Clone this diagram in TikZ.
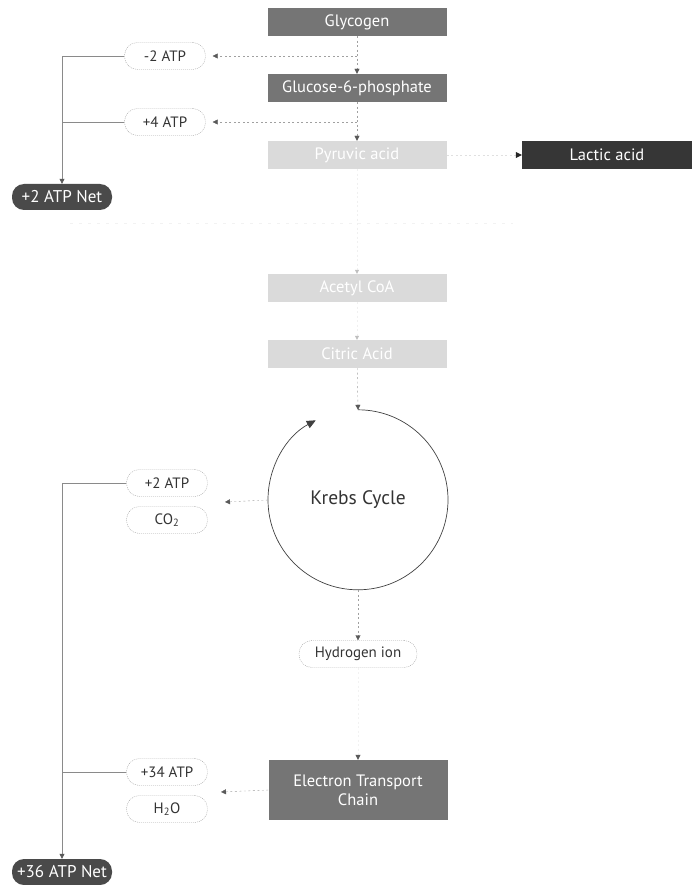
\documentclass[tikz,border=0pt]{standalone}
\usepackage{fontspec}
\setmainfont{PT Sans}
\usetikzlibrary{arrows.meta}
\definecolor{boxmid}{HTML}{757575}
\definecolor{boxpale}{HTML}{DADADA}
\definecolor{boxdark}{HTML}{363636}
\definecolor{netfill}{HTML}{4A4A4A}
\definecolor{linegray}{HTML}{8A8A8A}
\definecolor{dotgray}{HTML}{A0A0A0}
\begin{document}
\begin{tikzpicture}[x=1pt,y=-1pt,
  stage/.style={rectangle,minimum width=179pt,minimum height=28pt,inner sep=0pt,text=white,font=\fontsize{16.5}{19}\selectfont},
  midstage/.style={stage,fill=boxmid},
  palestage/.style={stage,fill=boxpale},
  pill/.style={rectangle,rounded corners=13pt,draw=dotgray,dash pattern=on 1pt off 1pt,minimum width=81pt,minimum height=27pt,inner sep=0pt,text=black!80,font=\fontsize{15}{17}\selectfont},
  netpill/.style={rectangle,rounded corners=12pt,fill=netfill,minimum width=100pt,minimum height=26pt,inner sep=0pt,text=white,font=\fontsize{17}{19}\selectfont},
  flow/.style={draw=dotgray,dash pattern=on 2pt off 2.5pt,-{Triangle[length=5pt,width=5pt,fill=black!65,color=black!65]}},
  faintflow/.style={draw=black!6,dash pattern=on 2pt off 2.5pt,-{Triangle[length=4pt,width=4pt,fill=black!25,color=black!25]}},
  total/.style={draw=linegray,line width=0.6pt,-{Triangle[length=5pt,width=5pt,fill=black!65,color=black!65]}},
  branch/.style={draw=linegray,line width=0.6pt}]
  \useasboundingbox (0,0) rectangle (692,885);
  % anaerobic part
  \node[midstage] (glycogen) at (357,22) {Glycogen};
  \node[midstage] (glucose) at (357,88) {Glucose-6-phosphate};
  \node[palestage] (pyruvic) at (357,155) {Pyruvic acid};
  \node[stage,fill=boxdark,minimum width=170pt] (lactic) at (607,155) {Lactic acid};
  \node[pill] (atpA) at (165,56) {-2 ATP};
  \node[pill] (atpB) at (165,122) {+4 ATP};
  \node[netpill] (net1) at (62,197) {+2 ATP Net};
  \coordinate (forkA) at (357,56);
  \coordinate (forkB) at (357,122);
  \draw[flow] (glycogen) -- (glucose);
  \draw[flow] (glucose) -- (pyruvic);
  \draw[flow,shorten >=7pt] (forkA) -- (atpA);
  \draw[flow,shorten >=7pt] (forkB) -- (atpB);
  \draw[flow,draw=black!12,-{Triangle[length=6pt,width=6pt,fill=black!85,color=black!85]}] (pyruvic) -- (lactic);
  \draw[total] (atpA.west) -| (net1.north);
  \draw[branch] (atpB.west) -- (atpB -| net1);
  % separator
  \coordinate (sepL) at (70,223);
  \coordinate (sepR) at (513,223);
  \draw[black!5,dash pattern=on 3pt off 6pt] (sepL) -- (sepR);
  % aerobic part
  \node[palestage] (acetyl) at (357,288) {Acetyl CoA};
  \node[palestage] (citric) at (357,354) {Citric Acid};
  \node[circle,minimum size=180pt,inner sep=0pt,text=black!80,font=\fontsize{19.5}{22}\selectfont] (krebs) at (358,500) {Krebs Cycle};
  \draw[black!75,line width=0.7pt,-{Triangle[length=9pt,width=8pt]}] (krebs.90) arc[start angle=90,end angle=-242,radius=90pt];
  \node[pill] (atpC) at (167,483) {+2 ATP};
  \node[pill] (co2) at (167,520) {CO\textsubscript{2}};
  \node[pill,minimum width=118pt] (hion) at (358,654) {Hydrogen ion};
  \node[midstage,minimum height=60pt,align=center] (etc) at (358,790) {Electron Transport\\Chain};
  \node[pill] (atpD) at (167,772) {+34 ATP};
  \node[pill] (h2o) at (167,809) {H\textsubscript{2}O};
  \node[netpill] (net2) at (62,872) {+36 ATP Net};
  \coordinate (kout) at (225,502);
  \coordinate (eout) at (221,792);
  \draw[faintflow] (pyruvic) -- (acetyl);
  \draw[faintflow] (acetyl) -- (citric);
  \draw[flow] (citric) -- (krebs.north);
  \draw[flow] (krebs.west) -- (kout);
  \draw[flow] (krebs.south) -- (hion);
  \draw[flow,draw=black!5] (hion) -- (etc);
  \draw[flow] (etc.west) -- (eout);
  \draw[total] (atpC.west) -| (net2.north);
  \draw[branch] (atpD.west) -- (atpD -| net2);
\end{tikzpicture}
\end{document}
